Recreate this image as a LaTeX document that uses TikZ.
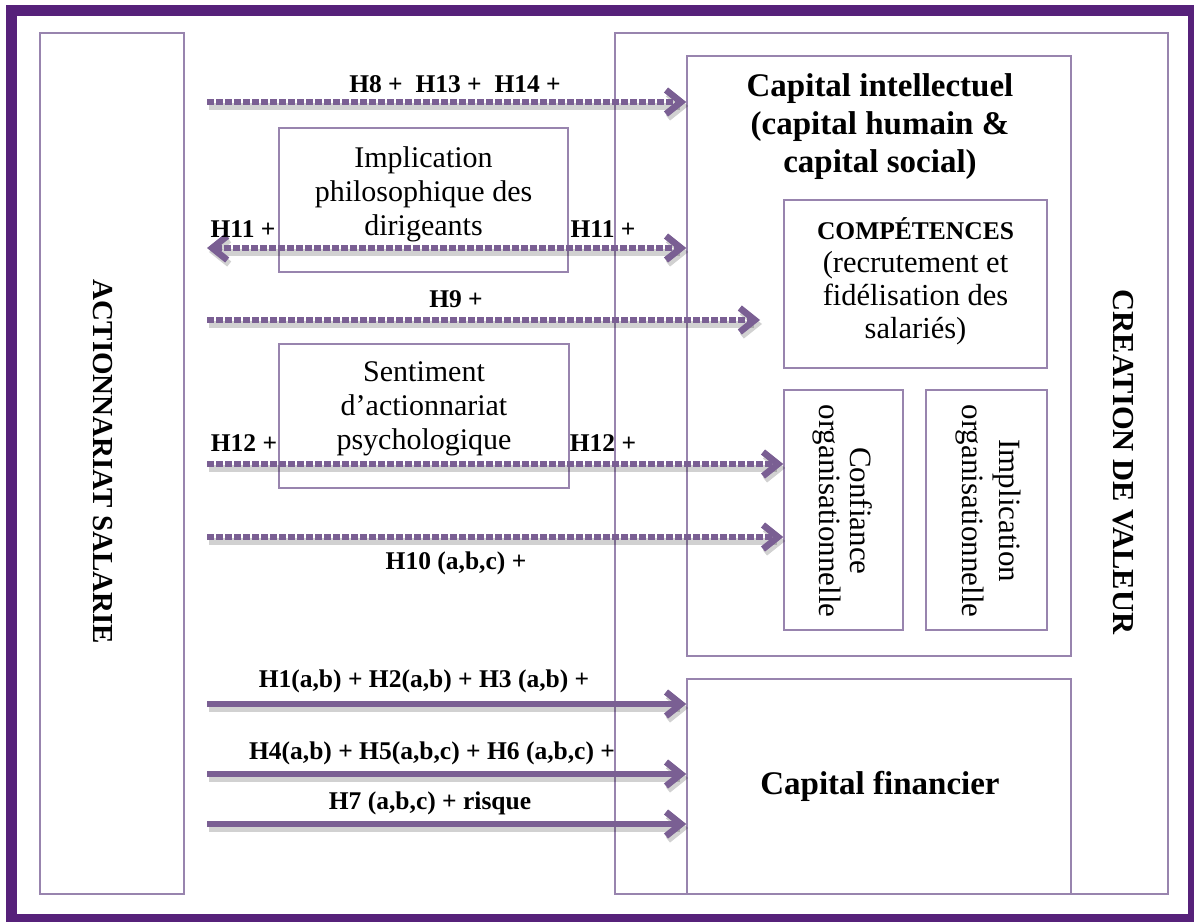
\documentclass[tikz,border=0pt]{standalone}
\usepackage{fontspec}
\setmainfont{Liberation Serif}
\usetikzlibrary{arrows.meta}
\definecolor{framec}{HTML}{56217A}
\definecolor{boxc}{HTML}{9884AE}
\definecolor{arrc}{HTML}{7A5F93}
\tikzset{
  box/.style={draw=boxc, line width=1.6pt, inner sep=0pt, rectangle},
  conn/.style={draw=arrc, line width=6.5pt,
    preaction={draw=black, opacity=0.18, line width=7pt, transform canvas={shift={(2pt,-4pt)}}}},
  dotconn/.style={conn, dash pattern=on 6.5pt off 2.5pt},
  tipend/.style={-{Straight Barb[length=15pt,width=24pt,line width=6.5pt]}},
  tipboth/.style={{Straight Barb[length=15pt,width=24pt,line width=6.5pt]}-{Straight Barb[length=15pt,width=24pt,line width=6.5pt]}},
  lbl/.style={font=\bfseries\fontsize{25.5}{30}\selectfont, inner sep=0pt},
  body/.style={font=\fontsize{30}{34}\selectfont, align=center, inner sep=0pt},
  bigbold/.style={font=\bfseries\fontsize{33}{38}\selectfont, align=center, inner sep=0pt},
  vert/.style={font=\bfseries\fontsize{29}{32}\selectfont, rotate=-90, inner sep=0pt},
  vbody/.style={font=\fontsize{31}{31}\selectfont, rotate=-90, align=center, inner sep=0pt},
}
\begin{document}
\begin{tikzpicture}[x=1pt,y=-1pt]
\useasboundingbox (0,0) rectangle (1194,921);
\fill[white] (0,0) rectangle (1194,921);
% outer frame
\draw[framec, line width=11pt] (11.5,10.5) rectangle (1193.5,919.5);

% main boxes
\node[box, minimum width=144pt, minimum height=861pt] (left) at (112,463.5) {};
\node[vert] (lefttxt) at (103,462) {ACTIONNARIAT SALARIE};
\node[box, minimum width=553pt, minimum height=861pt] (right) at (891.5,463.5) {};
\node[vert, font=\bfseries\fontsize{30.5}{32}\selectfont] (righttxt) at (1123,462) {CREATION DE VALEUR};

\node[box, minimum width=384pt, minimum height=600pt] (capint) at (879,356) {};
\node[bigbold] (capinttxt) at (880,127) {Capital intellectuel\\(capital humain \&\\capital social)};

\node[box, minimum width=263pt, minimum height=168pt] (comp) at (915.5,284) {};
\node[body, font=\fontsize{30.5}{33}\selectfont] (comptxt) at (915.5,281) {{\bfseries\fontsize{25.5}{33}\selectfont COMPÉTENCES}\\(recrutement et\\fidélisation des\\salariés)};

\node[box, minimum width=119pt, minimum height=240pt] (conf) at (843.5,510) {};
\node[vbody] (conftxt) at (843,511) {Confiance\\organisationnelle};
\node[box, minimum width=121pt, minimum height=240pt] (implorg) at (986.5,510) {};
\node[vbody, font=\fontsize{31}{37}\selectfont] (implorgtxt) at (988,511) {Implication\\organisationnelle};

\node[box, minimum width=384pt, minimum height=215pt] (capfin) at (879,786.5) {};
\node[bigbold] (capfintxt) at (880,786) {Capital financier};

% moderator boxes
\node[box, fill=white, minimum width=289pt, minimum height=144pt] (philo) at (423.5,200) {};
\node[box, fill=white, minimum width=290pt, minimum height=144pt] (senti) at (424,416) {};

% start coordinates
\coordinate (s8) at (207,102);
\coordinate (s11) at (207,248);
\coordinate (s9) at (207,320);
\coordinate (e9) at (760,320);
\coordinate (s12) at (207,464);
\coordinate (s10) at (207,537);
\coordinate (s1) at (207,704);
\coordinate (s4) at (207,774);
\coordinate (s7) at (207,824);

% dotted connectors
\draw[dotconn, tipend] (s8) -- (s8 -| capint.west);
\draw[dotconn, tipboth] (s11) -- (s11 -| capint.west);
\draw[dotconn, tipend] (s9) -- (e9);
\draw[dotconn, tipend] (s12) -- (s12 -| conf.west);
\draw[dotconn, tipend] (s10) -- (s10 -| conf.west);
% solid connectors
\draw[conn, tipend] (s1) -- (s1 -| capfin.west);
\draw[conn, tipend] (s4) -- (s4 -| capfin.west);
\draw[conn, tipend] (s7) -- (s7 -| capfin.west);

% moderator texts
\node[body] (philotxt) at (423.5,194) {Implication\\philosophique des\\dirigeants};
\node[body] (sentitxt) at (424,409) {Sentiment\\d’actionnariat\\psychologique};

% labels
\node[lbl] (l8) at (455,84) {H8 +\ \ H13 +\ \ H14 +};
\node[lbl] (l11a) at (243,229) {H11 +};
\node[lbl] (l11b) at (603,229) {H11 +};
\node[lbl] (l9) at (456,299) {H9 +};
\node[lbl] (l12a) at (244,443) {H12 +};
\node[lbl] (l12b) at (603,443) {H12 +};
\node[lbl] (l10) at (456,563) {H10 (a,b,c) +};
\node[lbl] (l1) at (424,681) {H1(a,b) + H2(a,b) + H3 (a,b) +};
\node[lbl] (l4) at (432,753) {H4(a,b) + H5(a,b,c) + H6 (a,b,c) +};
\node[lbl] (l7) at (430,803) {H7 (a,b,c) + risque};
\end{tikzpicture}
\end{document}
